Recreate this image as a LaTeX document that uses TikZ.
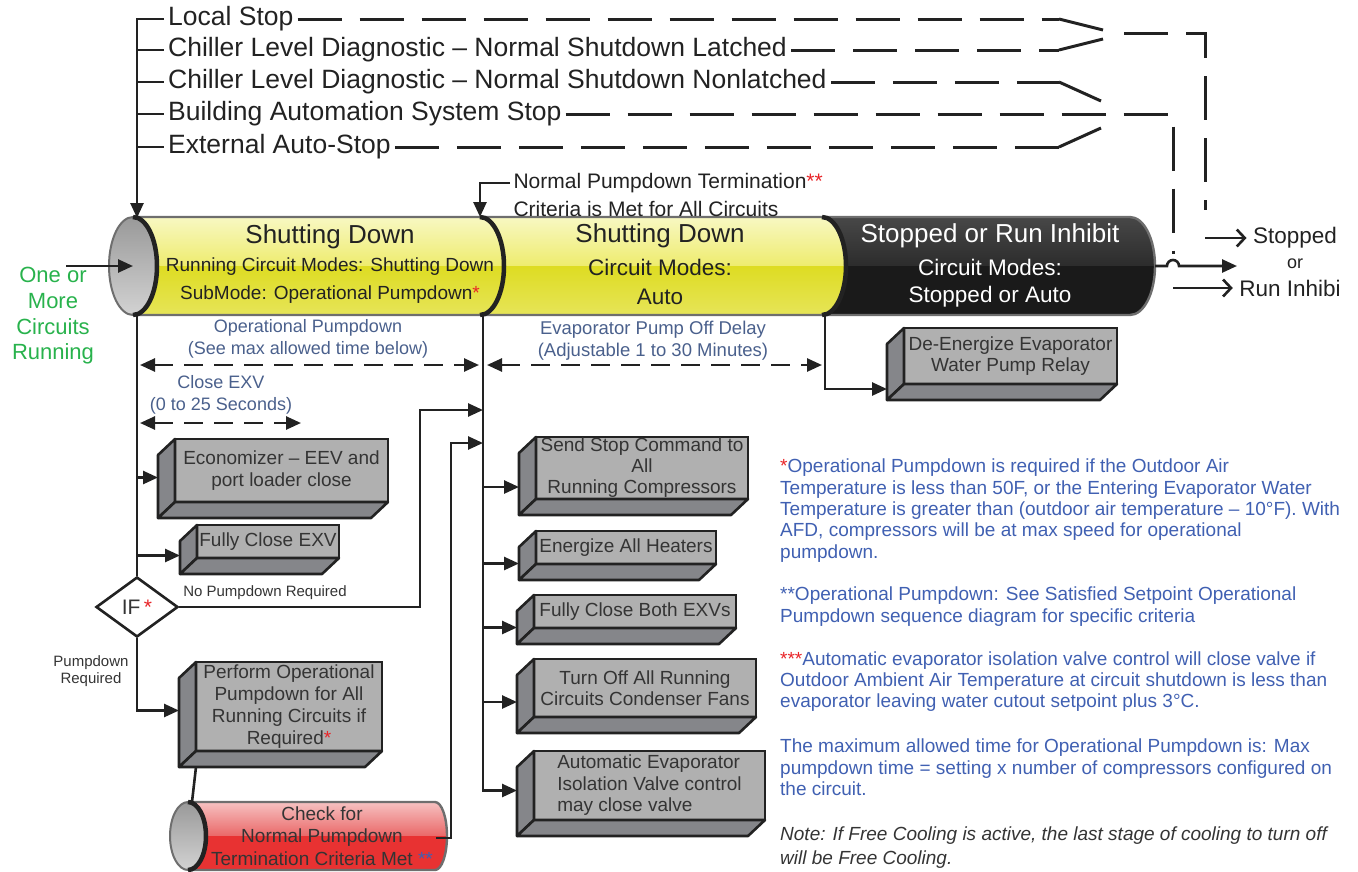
\documentclass[tikz,border=0pt]{standalone}
\usepackage{fontspec}
\setmainfont{Liberation Sans}
\usetikzlibrary{arrows.meta,positioning,shapes.geometric,calc}
\definecolor{sdInk}     {RGB}{ 34, 34, 34}
\definecolor{sdText}    {RGB}{ 52, 52, 52}
\definecolor{sdBoxFront}{RGB}{176,176,176}
\definecolor{sdBoxSide} {RGB}{133,134,138}
\definecolor{sdBlue}    {RGB}{ 64, 96,178}
\definecolor{sdSlate}   {RGB}{ 74, 96,140}
\definecolor{sdGreen}   {RGB}{ 40,178, 76}
\definecolor{sdRed}     {RGB}{232, 36, 40}
\definecolor{sdYelTop}  {RGB}{248,248,196}
\definecolor{sdYelMid}  {RGB}{238,236,110}
\definecolor{sdYelLow}  {RGB}{222,220, 34}
\definecolor{sdBlkTop}  {RGB}{ 72, 72, 72}
\definecolor{sdBlkMid}  {RGB}{ 44, 44, 44}
\definecolor{sdBlkLow}  {RGB}{ 26, 26, 26}
\definecolor{sdRedTop}  {RGB}{246,196,196}
\definecolor{sdRedMid}  {RGB}{234,104,104}
\definecolor{sdRedLow}  {RGB}{232, 50, 50}
\definecolor{sdRim}     {RGB}{110,110,110}
\newcommand{\fsize}[2]{\fontsize{#1}{#2}\selectfont}
% side and bottom faces of a box; #1 = arrow height on the side, #2 = node
\newcommand{\boxdepth}[2][8]{%
  \filldraw[boxface] (#2.north west) -- ++(-17,16) -- ($(#2.south west)+(-17,16)$)
     -- (#2.south west) -- cycle;
  \filldraw[boxface] (#2.south west) -- ($(#2.south west)+(-17,16)$)
     -- ($(#2.south east)+(-17,16)$) -- (#2.south east) -- cycle;
  \coordinate (#2-side) at ($(#2.west)+(-17,#1)$);
  \coordinate (#2-foot) at ($(#2.south west)+(0,16)$);}

\begin{document}
\begin{tikzpicture}[x=1pt,y=-1pt,
  >={Triangle[length=15pt,width=13pt]},
  conn/.style={draw=sdInk,line width=2.6pt},
  arr/.style={conn,->},
  dimarr/.style={conn,<->,dash pattern=on 19pt off 11pt},
  stopline/.style={draw=sdInk,line width=3pt,dash pattern=on 44pt off 18pt},
  stopsolid/.style={draw=sdInk,line width=3pt},
  openarr/.style={draw=sdInk,line width=2.6pt,-{Straight Barb[length=8pt,width=17pt]}},
  gbox/.style={draw=sdInk,fill=sdBoxFront,line width=2.6pt,outer sep=0pt,
               inner sep=0pt,align=center,text=sdText,font=\fsize{19}{21.5}},
  boxface/.style={draw=sdInk,fill=sdBoxSide,line width=2.6pt,line join=round},
  toplbl/.style={anchor=west,text=sdInk,font=\fsize{26.5}{30},inner sep=4pt},
  cyltxt/.style={text=sdInk,inner sep=0pt},
  dimlbl/.style={text=sdSlate,align=center,inner sep=0pt},
  note/.style={anchor=west,align=left,text=sdBlue,font=\fsize{19}{21.4},inner sep=0pt},
  rim/.style={draw=sdRim,line width=2.4pt},
  seam/.style={draw=sdInk,line width=4.5pt}
]
\useasboundingbox (0,0) rectangle (1358,871);

% main cylinder
\coordinate (capC)   at (133,266);
\coordinate (capTop) at (137,218);
\coordinate (capBot) at (137,315);
\coordinate (divA)   at (480,217);
\coordinate (divB)   at (822,217);
\coordinate (busR)   at (483,315);
\coordinate (divBb)  at (825,315);
\coordinate (cylEnd) at (1155,266);
\begin{scope}
  \clip (133,217) -- (822,217) arc[start angle=-90,end angle=90,x radius=24,y radius=49]
        -- (133,315) -- cycle;
  \shade[top color=sdYelTop,bottom color=sdYelMid] (100,216) rectangle (900,266);
  \shade[top color=sdYelLow,bottom color=sdYelLow!75!white] (100,266) rectangle (900,316);
\end{scope}
\begin{scope}
  \clip (822,217) arc[start angle=-90,end angle=90,x radius=24,y radius=49]
        -- (1130,315) arc[start angle=90,end angle=-90,x radius=25,y radius=49] -- cycle;
  \shade[top color=sdBlkTop,bottom color=sdBlkMid] (800,216) rectangle (1160,266);
  \fill[sdBlkLow] (800,266) rectangle (1160,316);
\end{scope}
\draw[rim] (133,217) -- (1130,217) arc[start angle=-90,end angle=90,x radius=25,y radius=49]
     -- (133,315);
\shade[top color=gray!80,bottom color=gray!35] (capC) ellipse[x radius=24,y radius=49];
\draw[rim,line width=2pt] (capC) ellipse[x radius=24,y radius=49];
\draw[seam] (133,217) arc[start angle=-90,end angle=90,x radius=24,y radius=49];
\draw[seam] (divA) arc[start angle=-90,end angle=90,x radius=24,y radius=49];
\draw[seam] (divB) arc[start angle=-90,end angle=90,x radius=24,y radius=49];

% check cylinder
\coordinate (chkCap) at (188,836);
\coordinate (chkTop) at (192,802);
\coordinate (chkEnd) at (436,838);
\begin{scope}
  \clip (188,802) -- (435,802) arc[start angle=-90,end angle=90,x radius=12,y radius=34]
        -- (188,870) -- cycle;
  \shade[top color=sdRedTop,bottom color=sdRedMid] (150,801) rectangle (460,836);
  \fill[sdRedLow] (150,836) rectangle (460,872);
\end{scope}
\draw[rim] (188,802) -- (435,802) arc[start angle=-90,end angle=90,x radius=12,y radius=34]
     -- (188,870);
\shade[top color=gray!80,bottom color=gray!35] (chkCap) ellipse[x radius=18,y radius=34];
\draw[rim,line width=2pt] (chkCap) ellipse[x radius=18,y radius=34];
\draw[seam] (188,802) arc[start angle=-90,end angle=90,x radius=18,y radius=34];

% cylinder texts
\node[cyltxt,font=\fsize{26}{30}]   (sd1)  at (330,237) {Shutting Down};
\node[cyltxt,font=\fsize{19}{22}]   (sd1m) at (330,267) {Running Circuit Modes: Shutting Down};
\node[cyltxt,font=\fsize{19}{22}]   (sd1s) at (330,295) {SubMode: Operational Pumpdown\textcolor{sdRed}{*}};
\node[cyltxt,font=\fsize{26}{30}]   (sd2)  at (660,236) {Shutting Down};
\node[cyltxt,font=\fsize{22.5}{26}] (sd2m) at (660,267) {Circuit Modes:};
\node[cyltxt,font=\fsize{22.5}{26}] (sd2s) at (660,297) {Auto};
\node[cyltxt,text=white,font=\fsize{26}{30}]   (st3)  at (990,236) {Stopped or Run Inhibit};
\node[cyltxt,text=white,font=\fsize{22.5}{26}] (st3m) at (990,267) {Circuit Modes:};
\node[cyltxt,text=white,font=\fsize{22.5}{26}] (st3s) at (990,297) {Stopped or Auto};
\node[cyltxt,text=sdText,align=center,font=\fsize{19}{22.5}] (check) at (322,836)
   {Check for\\Normal Pumpdown\\Termination Criteria Met \textcolor{sdBlue}{**}};

% stop requests
\node[toplbl] (lstop) at (164,19)  {Local Stop};
\node[toplbl] (cldl)  at (164,50)  {Chiller Level Diagnostic -- Normal Shutdown Latched};
\node[toplbl] (cldn)  at (164,82)  {Chiller Level Diagnostic -- Normal Shutdown Nonlatched};
\node[toplbl] (bas)   at (164,114) {Building Automation System Stop};
\node[toplbl] (ext)   at (164,147) {External Auto-Stop};
\draw[arr] (lstop.west) -| (capTop);
\foreach \n in {cldl,cldn,bas,ext}
  \draw[conn] (capTop |- \n.west) -- (\n.west);

\coordinate (swLs)  at (1059,19);  \coordinate (swLsE) at (1103,30);
\coordinate (swLa)  at (1059,50);  \coordinate (swLaE) at (1103,39);
\coordinate (swOut) at (1124,33);  \coordinate (outC)  at (1205,33);
\coordinate (stopDrop) at (1205,210); \coordinate (stopStart) at (1205,238);
\coordinate (swNl)  at (1059,82);  \coordinate (swNlE) at (1101,101);
\coordinate (swEx)  at (1059,147); \coordinate (swExE) at (1101,128);
\coordinate (basC)  at (1173,114); \coordinate (runDrop) at (1173,254);
\coordinate (runStart) at (1173,288);
\draw[stopline] (lstop.east) -- (swLs);
\draw[stopsolid] (swLs) -- (swLsE);
\draw[stopline] (cldl.east) -- (swLa);
\draw[stopsolid] (swLa) -- (swLaE);
\draw[stopline] (swOut) -- (outC) -- (stopDrop);
\draw[stopline] (cldn.east) -- (swNl);
\draw[stopsolid] (swNl) -- (swNlE);
\draw[stopline] (bas.east) -- (basC) -- (runDrop);
\draw[stopline] (ext.east) -- (swEx);
\draw[stopsolid] (swEx) -- (swExE);

% result
\node[font=\fsize{22.5}{26},text=sdInk] (stopped) at (1295,238) {Stopped};
\node[font=\fsize{18}{20},text=sdInk]   (orlbl)   at (1295,264) {or};
\node[font=\fsize{22.5}{26},text=sdInk] (runinh)  at (1290,288) {Run Inhibi};
\coordinate (hopL) at (1167,266);
\coordinate (outTip) at (1237,266);
\draw[arr] (cylEnd) -- (hopL) arc[start angle=180,end angle=360,radius=6] -- (outTip);
\draw[openarr] (stopStart) -- ($(stopped.west)+(-3,0)$);
\draw[openarr] (runStart) -- ($(runinh.west)+(-3,0)$);

% entry
\node[text=sdGreen,align=center,font=\fsize{22}{25.7},inner sep=0pt] (run) at (53,316)
   {One or\\More\\Circuits\\Running};
\coordinate (runIn) at (66,266);
\draw[arr] (runIn) -- (capC);

\node[anchor=west,text=sdInk,font=\fsize{21}{24}] (npt1) at (510,183)
   {Normal Pumpdown Termination\textcolor{sdRed}{**}};
\node[anchor=west,text=sdInk,font=\fsize{21}{24}] (npt2) at (510,209)
   {Criteria is Met for All Circuits};
\draw[arr] (npt1.west) -| (divA);

% timing
\coordinate (opL) at (140,365); \coordinate (opR) at (479,365);
\coordinate (evL) at (487,365); \coordinate (evR) at (822,365);
\coordinate (ceL) at (140,423); \coordinate (ceR) at (301,423);
\draw[dimarr] (opL) -- (opR);
\draw[dimarr] (evL) -- (evR);
\draw[dimarr] (ceL) -- (ceR);
\node[dimlbl,font=\fsize{18}{22}]   (oplbl) at (308,339)
   {Operational Pumpdown\\(See max allowed time below)};
\node[dimlbl,font=\fsize{18.5}{22}] (evlbl) at (653,341)
   {Evaporator Pump Off Delay\\(Adjustable 1 to 30 Minutes)};
\node[dimlbl,font=\fsize{18}{22}]   (celbl) at (221,395)
   {Close EXV\\(0 to 25 Seconds)};

% actions
\node[gbox,minimum width=213pt,minimum height=63pt] (eco)    at (281.5,470.5)
   {Economizer -- EEV and\\port loader close};
\node[gbox,minimum width=142pt,minimum height=33pt] (fcexv)  at (268,541.5)
   {Fully Close EXV};
\node[gbox,minimum width=186pt,minimum height=89pt,font=\fsize{19}{22}] (perf) at (289,706.5)
   {Perform Operational\\Pumpdown for All\\Running Circuits if\\Required\textcolor{sdRed}{*}};
\node[gbox,minimum width=213pt,minimum height=56pt] (deen)   at (1010.5,356)
   {De-Energize Evaporator\\Water Pump Relay};
\node[gbox,minimum width=212pt,minimum height=62pt,font=\fsize{19}{21}] (stop) at (642,468)
   {Send Stop Command to\\All\\Running Compressors};
\node[gbox,minimum width=180pt,minimum height=33pt] (heat)   at (626,547.5)
   {Energize All Heaters};
\node[gbox,minimum width=202pt,minimum height=33pt] (fcboth) at (635,611.5)
   {Fully Close Both EXVs};
\node[gbox,minimum width=222pt,minimum height=58pt] (fans)   at (645,688)
   {Turn Off All Running\\Circuits Condenser Fans};
\node[gbox,minimum width=231pt,minimum height=69pt,align=left] (isol) at (649.5,785.5)
   {Automatic Evaporator\\Isolation Valve control\\may close valve};
\boxdepth[7]{eco}
\boxdepth[14]{fcexv}
\boxdepth[4]{perf}
\boxdepth[33]{deen}
\boxdepth[19]{stop}
\boxdepth[16]{heat}
\boxdepth[16]{fcboth}
\boxdepth[14]{fans}
\boxdepth[5]{isol}

% decision
\node[draw=sdInk,fill=white,diamond,line width=2.6pt,minimum width=82pt,
      minimum height=60pt,inner sep=0pt,text=sdText,font=\fsize{21}{22}] (if) at (137,607)
   {IF\,\textcolor{sdRed}{*}};
\node[text=sdText,font=\fsize{15}{17}] (nopd) at (265,593) {No Pumpdown Required};
\node[text=sdText,align=center,font=\fsize{15}{17}] (pdreq) at (91,671) {Pumpdown\\Required};

% connectors
\draw[conn] (capBot) -- (if.north);
\foreach \b in {eco,fcexv}
  \draw[arr] (capBot |- \b-side) -- (\b-side);
\draw[arr] (if.south) |- (perf-side);
\coordinate (noTurn) at (420,410);
\draw[arr] (if.east) -| (noTurn) -- (noTurn -| busR);
\draw[conn] (perf-foot) -- (chkTop);
\coordinate (chkTurn) at (451,443);
\draw[arr] (chkEnd) -| (chkTurn) -- (chkTurn -| busR);
\draw[arr] (busR) |- (isol-side);
\foreach \b in {stop,heat,fcboth,fans}
  \draw[arr] (busR |- \b-side) -- (\b-side);
\draw[arr] (divBb) |- (deen-side);

% notes
\node[note] (n1) at (780,510.5)
   {\textcolor{sdRed}{*}Operational Pumpdown is required if the Outdoor Air\\
    Temperature is less than 50F, or the Entering Evaporator Water\\
    Temperature is greater than (outdoor air temperature -- 10°F). With\\
    AFD, compressors will be at max speed for operational\\
    pumpdown.};
\node[note] (n2) at (780,606.5)
   {**Operational Pumpdown: See Satisfied Setpoint Operational\\
    Pumpdown sequence diagram for specific criteria};
\node[note] (n3) at (780,681.5)
   {\textcolor{sdRed}{***}Automatic evaporator isolation valve control will close valve if\\
    Outdoor Ambient Air Temperature at circuit shutdown is less than\\
    evaporator leaving water cutout setpoint plus 3°C.};
\node[note] (n4) at (780,767.5)
   {The maximum allowed time for Operational Pumpdown is: Max\\
    pumpdown time = setting x number of compressors configured on\\
    the circuit.};
\node[note,text=sdText,font=\fsize{19}{24}\itshape] (n5) at (780,848)
   {Note: If Free Cooling is active, the last stage of cooling to turn off\\
    will be Free Cooling.};
\end{tikzpicture}
\end{document}
